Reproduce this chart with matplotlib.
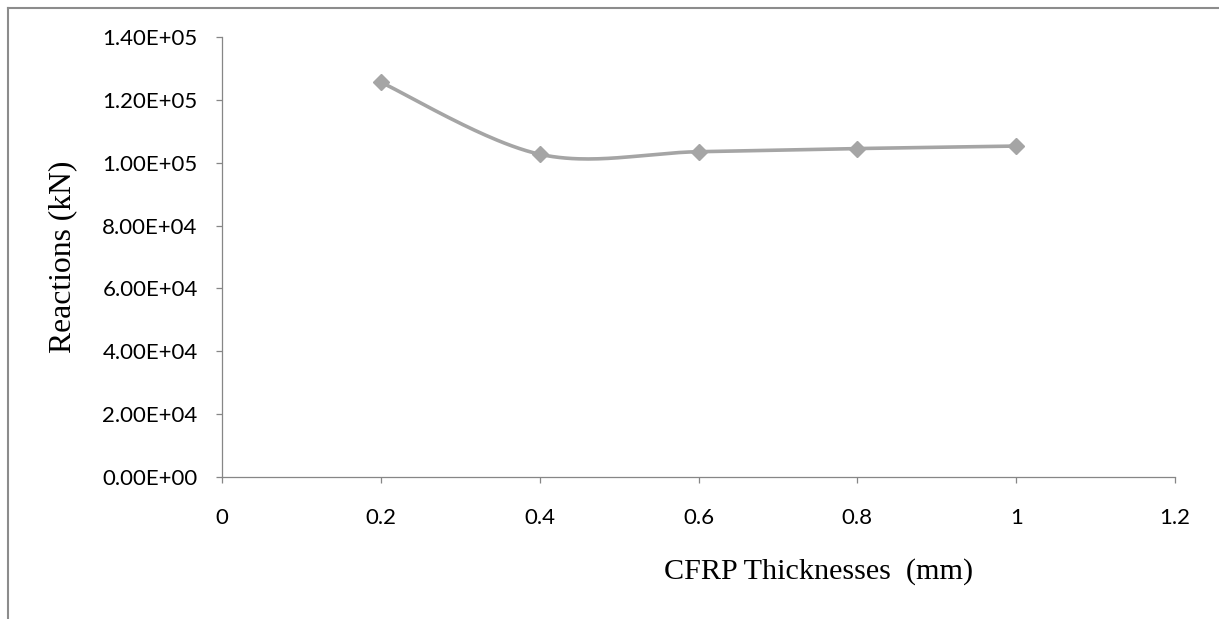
import numpy as np
import matplotlib.pyplot as plt
from matplotlib.lines import Line2D
from matplotlib.ticker import FuncFormatter

# CFRP thickness (mm) vs support reaction (kN)
thickness = [0.2, 0.4, 0.6, 0.8, 1.0]
reaction = [1.256e5, 1.027e5, 1.035e5, 1.045e5, 1.053e5]

x_ticks = [0, 0.2, 0.4, 0.6, 0.8, 1.0, 1.2]
y_ticks = [0, 2e4, 4e4, 6e4, 8e4, 1e5, 1.2e5, 1.4e5]

gray = '#a5a5a5'
axis_gray = '#868686'


def smooth(x, y, n=50):
    # Catmull-Rom style bezier through the points (spreadsheet "smoothed line")
    pts = np.column_stack([x, y])
    padded = np.vstack([pts[0], pts, pts[-1]])
    t = np.linspace(0, 1, n)[:, None]
    segs = []
    for i in range(len(pts) - 1):
        p0, p1, p2, p3 = padded[i:i + 4]
        c1 = p1 + (p2 - p0) / 6
        c2 = p2 - (p3 - p1) / 6
        seg = (1 - t)**3 * p1 + 3 * (1 - t)**2 * t * c1 + 3 * (1 - t) * t**2 * c2 + t**3 * p2
        segs.append(seg if i == 0 else seg[1:])
    out = np.vstack(segs)
    return out[:, 0], out[:, 1]


W, H = 1219, 619
fig = plt.figure(figsize=(W / 100, H / 100), dpi=100)
ax = fig.add_axes([222 / W, 1 - 477 / H, (1175 - 222) / W, (477 - 37) / H])

sx, sy = smooth(thickness, reaction)
ax.plot(sx, sy, color=gray, lw=2.6, solid_capstyle='round', zorder=3)
ax.plot(thickness, reaction, ls='none', marker='D', ms=8, color=gray, zorder=4)

ax.set_xlim(0, 1.2)
ax.set_ylim(0, 1.4e5)
ax.set_xticks(x_ticks)
ax.set_yticks(y_ticks)
ax.xaxis.set_major_formatter(FuncFormatter(lambda v, p: f'{v:g}'))
ax.yaxis.set_major_formatter(FuncFormatter(lambda v, p: f'{v:.2E}'))

for side in ['top', 'right']:
    ax.spines[side].set_visible(False)
for side in ['left', 'bottom']:
    ax.spines[side].set_color(axis_gray)
    ax.spines[side].set_linewidth(0.9)

ax.tick_params(axis='both', direction='out', length=4.5, width=0.9,
               color=axis_gray, labelsize=16, labelcolor='black')
ax.tick_params(axis='y', pad=13)
ax.tick_params(axis='x', pad=18)
for lab in ax.get_xticklabels() + ax.get_yticklabels():
    lab.set_family('Lato')

fig.text(819 / W, 1 - 572 / H, 'CFRP Thicknesses  (mm)', family='Liberation Serif',
         fontsize=21.7, ha='center', va='center')
fig.text(62.5 / W, 1 - 256.5 / H, 'Reactions (kN)', family='Liberation Serif',
         fontsize=22.8, ha='center', va='center', rotation=90)

# chart area border (only top and left edges show)
fig.add_artist(Line2D([7.5 / W, 1], [1 - 7.5 / H] * 2, color='#8c8c8c', lw=1.5,
                      transform=fig.transFigure))
fig.add_artist(Line2D([7.5 / W] * 2, [1 - 7.5 / H, 0], color='#8c8c8c', lw=1.5,
                      transform=fig.transFigure))

fig.savefig('out.png', dpi=100)
